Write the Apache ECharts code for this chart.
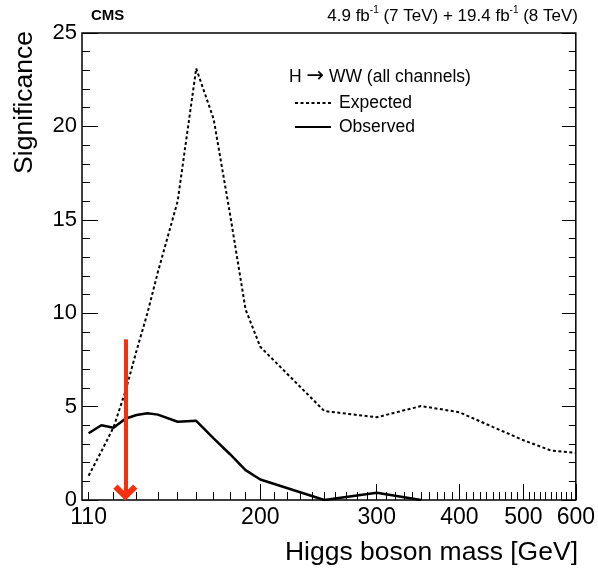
<!DOCTYPE html>
<html>
<head>
<meta charset="utf-8">
<script src="https://cdn.jsdelivr.net/npm/echarts@6/dist/echarts.min.js"></script>
<style>
html,body{margin:0;padding:0;background:#fff;}
#chart{width:598px;height:573px;}
</style>
</head>
<body>
<div id="chart"></div>
<script>
// ---- data ----
const expMasses = [110,115,120,125,130,135,140,150,160,170,180,190,200,250,300,350,400,450,500,550,600];
const expected  = [1.3,2.6,3.9,5.8,8.0,10.0,12.2,16.0,23.1,20.4,15.3,10.2,8.2,4.76,4.43,5.03,4.7,3.9,3.2,2.65,2.52];
const obsMasses = [110,115,120,125,130,135,140,150,160,170,180,190,200,250,300,350];
const observed  = [3.57,4.0,3.87,4.35,4.55,4.64,4.57,4.19,4.24,3.3,2.45,1.6,1.1,0.0,0.39,0.0];
const xLabelValues = [110,200,300,400,500,600];
const xMajorTicks = [200,300,400,500,600];
const xMinorTicks = [110,120,130,140,150,160,170,180,190,210,220,230,240,250,260,270,280,290,
  310,320,330,340,350,360,370,380,390,410,420,430,440,450,460,470,480,490,
  510,520,530,540,550,560,570,580,590];
const arrowMass = 125;
const arrowTop = 8.6;
const arrowBottom = 0.4;

const FONT = 'Liberation Sans, Arial, Helvetica, sans-serif';
const xMin = 107.5, xMax = 600;

const chart = echarts.init(document.getElementById('chart'), null, {renderer:'canvas'});
const toPairs = (xs, ys) => xs.map((m, i) => [m, ys[i]]);

const option = {
  animation: false,
  backgroundColor: '#fff',
  grid: {left: 82, right: 20, top: 33, bottom: 73, show: true, borderColor: '#000', borderWidth: 1.5, backgroundColor: 'transparent'},
  xAxis: [
    {
      type: 'log', logBase: 10, min: xMin, max: xMax, position: 'bottom',
      axisLine: {show: false},
      splitLine: {show: false},
      axisTick: {show: true, inside: true, length: 16, lineStyle: {color: '#000', width: 1}, customValues: xMajorTicks},
      axisLabel: {show: true, customValues: xLabelValues, fontSize: 23, color: '#000', fontFamily: FONT, margin: 6,
        formatter: v => String(Math.round(v))}
    },
    {
      type: 'log', logBase: 10, min: xMin, max: xMax, position: 'bottom',
      axisLine: {show: false},
      splitLine: {show: false},
      axisTick: {show: true, inside: true, length: 8, lineStyle: {color: '#000', width: 1}, customValues: xMinorTicks},
      axisLabel: {show: false}
    }
  ],
  yAxis: [
    {
      type: 'value', min: 0, max: 25, interval: 5, position: 'left',
      axisLine: {show: false}, splitLine: {show: false},
      axisTick: {show: true, inside: true, length: 16, lineStyle: {color: '#000', width: 1}},
      minorTick: {show: true, splitNumber: 5, length: 8, lineStyle: {color: '#000', width: 1}},
      axisLabel: {fontSize: 22, color: '#000', fontFamily: FONT, margin: 5}
    },
    {
      type: 'value', min: 0, max: 25, interval: 5, position: 'right',
      axisLine: {show: false}, splitLine: {show: false},
      axisTick: {show: true, inside: true, length: 14, lineStyle: {color: '#000', width: 1}},
      minorTick: {show: true, splitNumber: 5, length: 7, lineStyle: {color: '#000', width: 1}},
      axisLabel: {show: false}
    }
  ],
  legend: {
    data: ['Expected', 'Observed'],
    orient: 'vertical', left: 289, top: 89,
    itemWidth: 36, itemHeight: 14, itemGap: 6,
    itemStyle: {opacity: 0},
    textStyle: {fontSize: 17.5, color: '#000', fontFamily: FONT, padding: [0,0,0,3]}
  },
  series: [
    {
      name: 'Expected', type: 'line', xAxisIndex: 0, yAxisIndex: 0,
      data: toPairs(expMasses, expected),
      showSymbol: false, symbol: 'none', smooth: false,
      lineStyle: {color: '#000', width: 2, type: [3, 2.5]},
      itemStyle: {color: '#000'}
    },
    {
      name: 'Observed', type: 'line', xAxisIndex: 0, yAxisIndex: 0,
      data: toPairs(obsMasses, observed),
      showSymbol: false, symbol: 'none', smooth: false,
      lineStyle: {color: '#000', width: 2.5, type: 'solid'},
      itemStyle: {color: '#000'}
    },
    {
      name: 'mH', type: 'line', xAxisIndex: 0, yAxisIndex: 0,
      data: [], showSymbol: false,
      markLine: {
        silent: true, animation: false,
        symbol: ['none', 'path://M10,0 L20,10 L16.5,13.5 L10,7 L3.5,13.5 L0,10 Z'],
        symbolSize: [24, 16],
        label: {show: false},
        lineStyle: {color: '#f5300f', width: 4, type: 'solid'},
        itemStyle: {color: '#f5300f'},
        emphasis: {disabled: true},
        data: [[{coord: [arrowMass, arrowTop]}, {coord: [arrowMass, arrowBottom]}]]
      }
    }
  ],
  graphic: [
    {type: 'text', left: 91, top: 8, style: {text: 'CMS', font: 'bold 15px ' + FONT, fill: '#000'}},
    {type: 'text', x: 578, y: 16, style: {
      text: '4.9 fb{sup|-1} (7 TeV) + 19.4 fb{sup|-1} (8 TeV)',
      font: '17px ' + FONT, fill: '#000', align: 'right', verticalAlign: 'middle',
      rich: {sup: {fontSize: 10, fontFamily: FONT, padding: [0,0,12,0], fill: '#000'}}
    }},
    {type: 'text', x: 289, y: 77, style: {
      text: 'H {arr|\u2192} WW (all channels)', font: '17.5px ' + FONT, fill: '#000', verticalAlign: 'middle',
      rich: {arr: {fontSize: 21, fontFamily: 'DejaVu Sans', fill: '#000'}}
    }},
    {type: 'text', x: 25, y: 31, rotation: Math.PI / 2, style: {text: 'Significance', font: '26.5px ' + FONT, fill: '#000', align: 'right', verticalAlign: 'middle'}},
    {type: 'text', x: 578, y: 553, style: {text: 'Higgs boson mass [GeV]', font: '26.5px ' + FONT, fill: '#000', align: 'right', verticalAlign: 'middle'}}
  ]
};
chart.setOption(option);
</script>
</body>
</html>
